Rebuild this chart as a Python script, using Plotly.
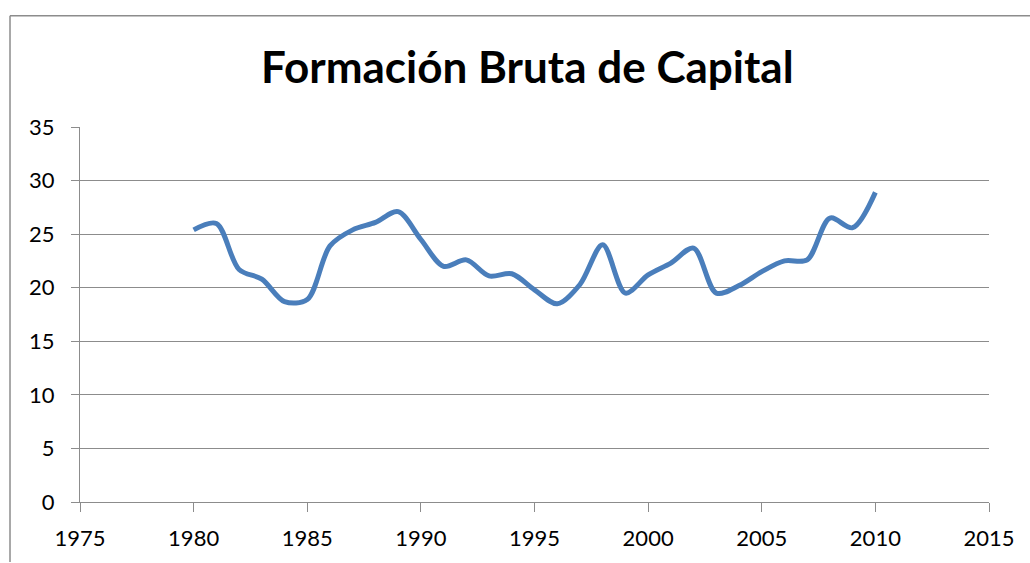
import plotly.graph_objects as go

# Annual gross capital formation, 1980-2010
years = list(range(1980, 2011))
values = [25.4, 26.0, 21.7, 20.8, 18.7, 18.9, 23.9, 25.4, 26.1, 27.1,
          24.5, 22.0, 22.6, 21.1, 21.3, 19.8, 18.5, 20.3, 24.0, 19.5,
          21.2, 22.3, 23.7, 19.5, 20.2, 21.5, 22.5, 22.6, 26.5, 25.6,
          28.9]

title_text = "Formación Bruta de Capital"
x_ticks = [1975, 1980, 1985, 1990, 1995, 2000, 2005, 2010, 2015]
y_ticks = [0, 5, 10, 15, 20, 25, 30, 35]

GRID = "#8c8c8c"
LINE = "#4a7ebb"
FONT = "Lato"

fig = go.Figure()
fig.add_trace(go.Scatter(
    x=years, y=values, mode="lines",
    line=dict(color=LINE, width=5, shape="spline", smoothing=0.9),
    hoverinfo="x+y", showlegend=False,
))

fig.update_layout(
    width=1030, height=563,
    margin=dict(l=80, r=41, t=127, b=59),
    paper_bgcolor="white", plot_bgcolor="white",
    font=dict(family=FONT, size=22, color="#000000"),
    title=dict(text="<b>" + title_text + "</b>", x=0.512, xref="container",
               y=1 - 68 / 563, yref="container", xanchor="center", yanchor="middle",
               font=dict(family=FONT, size=44, color="#000000")),
    xaxis=dict(range=[1975, 2015], tickvals=x_ticks, ticks="outside", ticklen=9,
               tickcolor=GRID, showline=True, linecolor=GRID, linewidth=1,
               showgrid=False, zeroline=False, ticklabelstandoff=8,
               fixedrange=True),
    yaxis=dict(range=[0, 35], tickvals=y_ticks, ticks="outside", ticklen=8,
               tickcolor=GRID, showline=True, linecolor=GRID, linewidth=1,
               showgrid=True, gridcolor=GRID, gridwidth=1, zeroline=False,
               ticklabelstandoff=12, fixedrange=True),
)

# Chart frame (left and top edges)
fig.add_shape(type="line", xref="paper", yref="paper",
              x0=-0.077, x1=-0.077, y0=-0.16, y1=1.297,
              line=dict(color=GRID, width=1.5))
fig.add_shape(type="line", xref="paper", yref="paper",
              x0=-0.077, x1=1.05, y0=1.297, y1=1.297,
              line=dict(color=GRID, width=1.5))

fig.write_html("out.html")
